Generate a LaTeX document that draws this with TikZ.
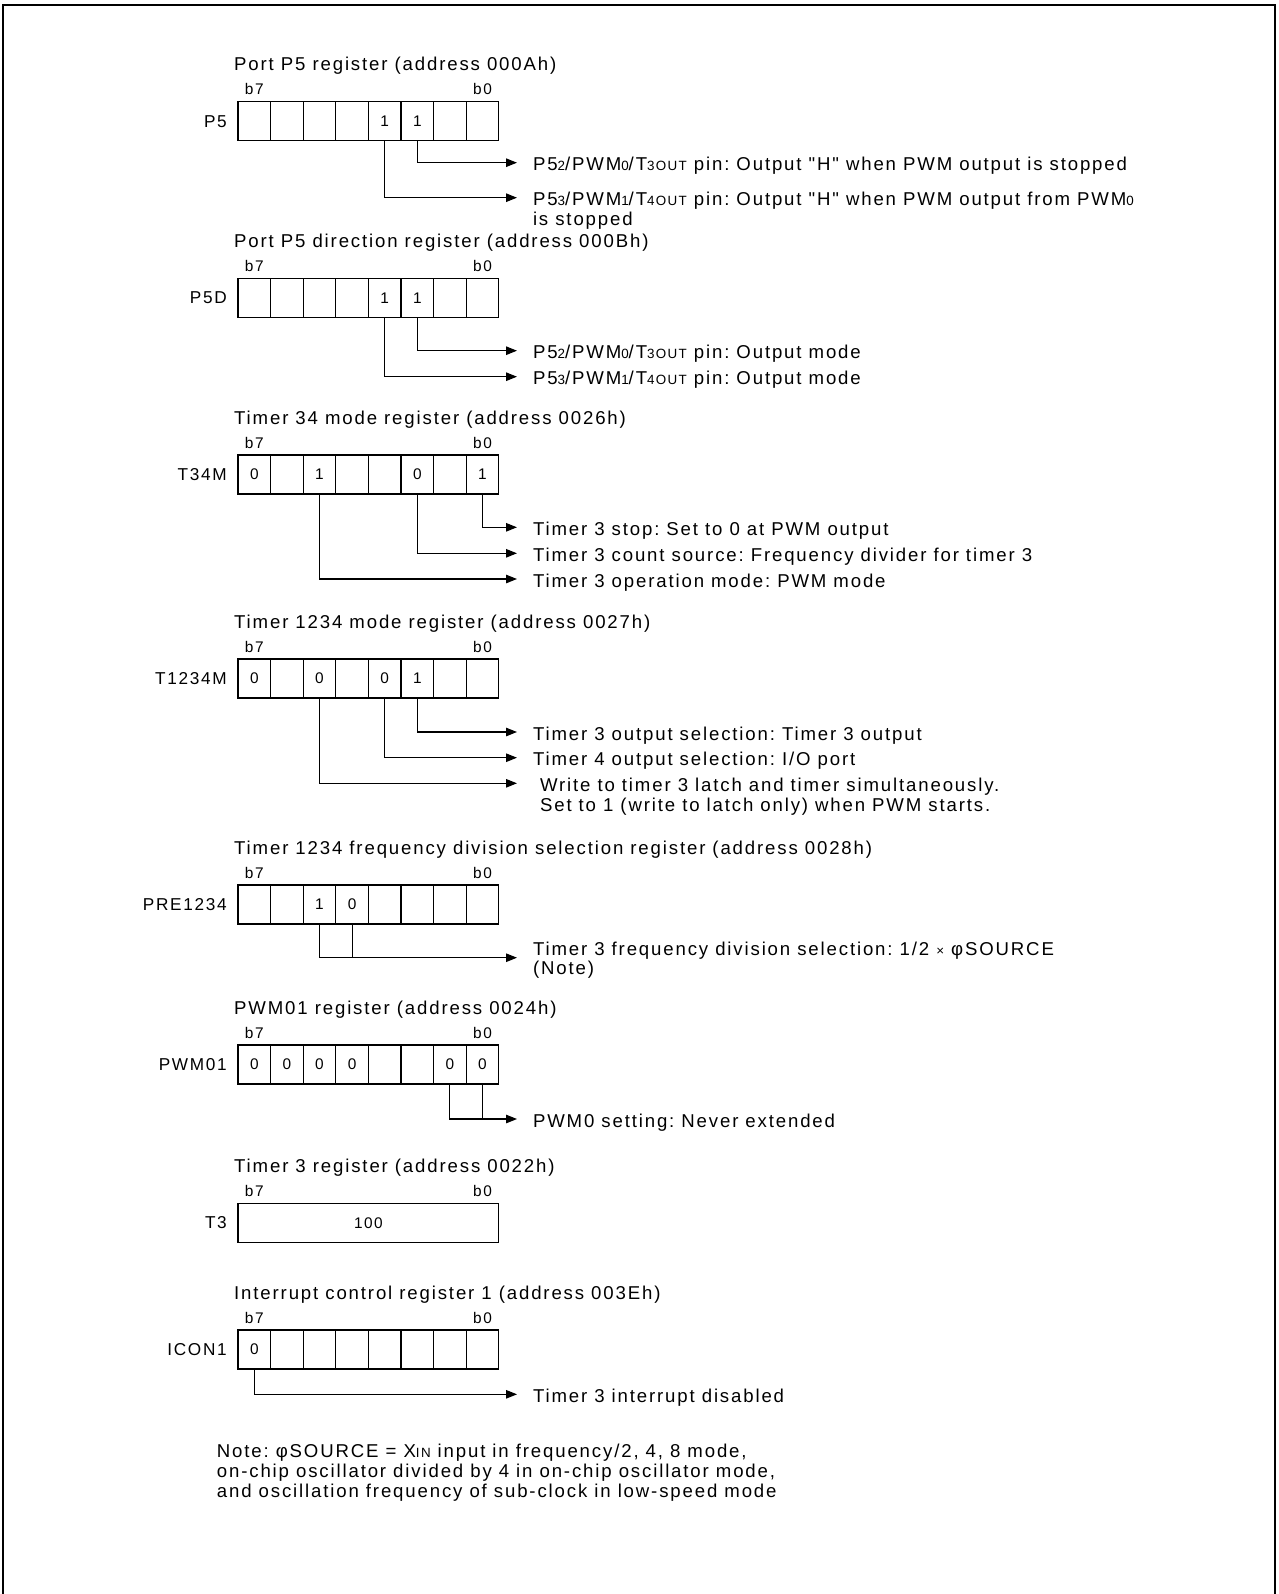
\documentclass[tikz,border=0pt]{standalone}
\usepackage{fontspec}
\setmainfont{Liberation Sans}[LetterSpace=10,Ligatures=TeXOff]
\usepackage{tikz}
\usetikzlibrary{arrows.meta,positioning}
\newcommand{\lowfig}[1]{{\fontsize{13.4}{14}\selectfont #1}}
\frenchspacing

\begin{document}
\begin{tikzpicture}[x=1pt,y=-1pt,
  regcell/.style={draw,line width=1.1pt,minimum width=32.6pt,minimum height=39pt,inner sep=0pt,outer sep=0pt,font=\fontsize{15.4}{16}\selectfont},
  bitlabel/.style={inner sep=0pt,text depth=0pt,font=\fontsize{15.4}{16}\selectfont},
  regname/.style={inner sep=0pt,text height=12.3pt,text depth=0pt,font=\fontsize{17.2}{18}\selectfont},
  regtitle/.style={anchor=west,inner sep=0pt,text height=13pt,text depth=0pt,font=\fontsize{18.6}{20}\selectfont},
  descr/.style={anchor=west,inner sep=0pt,outer xsep=16pt,text height=16pt,text depth=0pt,font=\fontsize{18.6}{20}\selectfont},
  notetext/.style={anchor=base west,inner sep=0pt,font=\fontsize{18.6}{20}\selectfont},
  conn/.style={line width=1.1pt,-{Triangle[length=11pt,width=8.5pt]}},
  link/.style={line width=1.1pt}]
\useasboundingbox (0,0) rectangle (1278,1594);
\draw[line width=2pt] (3,1594) -- (3,5) -- (1275,5) -- (1275,1594);

% port P5
\node[regtitle] (p5-title) at (234,64.2) {Port P5 register (address 000Ah)};
\foreach \v [count=\c from 0] in {{},{},{},{},1,1,{},{}} {
  \pgfmathtruncatemacro\bitno{7-\c}
  \node[regcell] (p5-\bitno) at (254.3+32.6*\c,121.2) {\v};
}
\node[bitlabel,above=6.5pt of p5-7] {b7};
\node[bitlabel,above=6.5pt of p5-0] {b0};
\node[regname,left=11pt of p5-7] {P5};
\node[descr] (p5-d2) at (517,162.7) {P5\lowfig{2}/PWM\lowfig{0}/T\lowfig{3OUT} pin: Output "H" when PWM output is stopped};
\node[descr] (p5-d3) at (517,197.7) {P5\lowfig{3}/PWM\lowfig{1}/T\lowfig{4OUT} pin: Output "H" when PWM output from PWM\lowfig{0}};
\node[descr] (p5-d3b) at ([yshift=-19.5pt]p5-d3.west) {is stopped};
\draw[conn] (p5-2.south) |- (p5-d2.west);
\draw[conn] (p5-3.south) |- (p5-d3.west);

% port P5 direction
\node[regtitle] (p5d-title) at (234,240.8) {Port P5 direction register (address 000Bh)};
\foreach \v [count=\c from 0] in {{},{},{},{},1,1,{},{}} {
  \pgfmathtruncatemacro\bitno{7-\c}
  \node[regcell] (p5d-\bitno) at (254.3+32.6*\c,297.8) {\v};
}
\node[bitlabel,above=6.5pt of p5d-7] {b7};
\node[bitlabel,above=6.5pt of p5d-0] {b0};
\node[regname,left=11pt of p5d-7] {P5D};
\node[descr] (p5d-d2) at (517,350.7) {P5\lowfig{2}/PWM\lowfig{0}/T\lowfig{3OUT} pin: Output mode};
\node[descr] (p5d-d3) at (517,376.7) {P5\lowfig{3}/PWM\lowfig{1}/T\lowfig{4OUT} pin: Output mode};
\draw[conn] (p5d-2.south) |- (p5d-d2.west);
\draw[conn] (p5d-3.south) |- (p5d-d3.west);

% timer 34 mode
\node[regtitle] (t34m-title) at (234,417.5) {Timer 34 mode register (address 0026h)};
\foreach \v [count=\c from 0] in {0,{},1,{},{},0,{},1} {
  \pgfmathtruncatemacro\bitno{7-\c}
  \node[regcell] (t34m-\bitno) at (254.3+32.6*\c,474.5) {\v};
}
\node[bitlabel,above=6.5pt of t34m-7] {b7};
\node[bitlabel,above=6.5pt of t34m-0] {b0};
\node[regname,left=11pt of t34m-7] {T34M};
\node[descr] (t34m-d0) at (517,527.3) {Timer 3 stop: Set to 0 at PWM output};
\node[descr] (t34m-d2) at (517,553.3) {Timer 3 count source: Frequency divider for timer 3};
\node[descr] (t34m-d5) at (517,579) {Timer 3 operation mode: PWM mode};
\draw[conn] (t34m-0.south) |- (t34m-d0.west);
\draw[conn] (t34m-2.south) |- (t34m-d2.west);
\draw[conn] (t34m-5.south) |- (t34m-d5.west);

% timer 1234 mode
\node[regtitle] (t1234m-title) at (234,621.5) {Timer 1234 mode register (address 0027h)};
\foreach \v [count=\c from 0] in {0,{},0,{},0,1,{},{}} {
  \pgfmathtruncatemacro\bitno{7-\c}
  \node[regcell] (t1234m-\bitno) at (254.3+32.6*\c,678.5) {\v};
}
\node[bitlabel,above=6.5pt of t1234m-7] {b7};
\node[bitlabel,above=6.5pt of t1234m-0] {b0};
\node[regname,left=11pt of t1234m-7] {T1234M};
\node[descr] (t1234m-d2) at (517,732) {Timer 3 output selection: Timer 3 output};
\node[descr] (t1234m-d3) at (517,757.7) {Timer 4 output selection: I/O port};
\node[descr] (t1234m-d5) at (517,783.3) {\ Write to timer 3 latch and timer simultaneously.};
\node[descr] (t1234m-d5b) at ([yshift=-20pt]t1234m-d5.west) {\ Set to 1 (write to latch only) when PWM starts.};
\draw[conn] (t1234m-2.south) |- (t1234m-d2.west);
\draw[conn] (t1234m-3.south) |- (t1234m-d3.west);
\draw[conn] (t1234m-5.south) |- (t1234m-d5.west);

% timer 1234 frequency division selection
\node[regtitle] (pre-title) at (234,847.5) {Timer 1234 frequency division selection register (address 0028h)};
\foreach \v [count=\c from 0] in {{},{},1,0,{},{},{},{}} {
  \pgfmathtruncatemacro\bitno{7-\c}
  \node[regcell] (pre-\bitno) at (254.3+32.6*\c,904.5) {\v};
}
\node[bitlabel,above=6.5pt of pre-7] {b7};
\node[bitlabel,above=6.5pt of pre-0] {b0};
\node[regname,left=11pt of pre-7] {PRE1234};
\node[descr] (pre-d) at (517,947.7) {Timer 3 frequency division selection: 1/2 \lowfig{×} φSOURCE};
\node[descr] (pre-db) at ([yshift=-19pt]pre-d.west) {(Note)};
\coordinate (pre-tip) at ([yshift=-10pt]pre-d.west);
\draw[conn] (pre-5.south) |- (pre-tip);
\draw[link] (pre-4.south) -- (pre-4.south |- pre-tip);

% PWM01
\node[regtitle] (pwm-title) at (234,1007.5) {PWM01 register (address 0024h)};
\foreach \v [count=\c from 0] in {0,0,0,0,{},{},0,0} {
  \pgfmathtruncatemacro\bitno{7-\c}
  \node[regcell] (pwm-\bitno) at (254.3+32.6*\c,1064.5) {\v};
}
\node[bitlabel,above=6.5pt of pwm-7] {b7};
\node[bitlabel,above=6.5pt of pwm-0] {b0};
\node[regname,left=11pt of pwm-7] {PWM01};
\node[descr] (pwm-d) at (517,1119) {PWM0 setting: Never extended};
\draw[conn] (pwm-1.south) |- (pwm-d.west);
\draw[link] (pwm-0.south) -- (pwm-0.south |- pwm-d.west);

% timer 3
\node[regtitle] (t3-title) at (234,1165.8) {Timer 3 register (address 0022h)};
\node[regcell,minimum width=260.8pt] (t3-box) at (368.4,1222.8) {100};
\node[bitlabel,above=6.5pt of t3-box.north west,xshift=16.3pt] {b7};
\node[bitlabel,above=6.5pt of t3-box.north east,xshift=-16.3pt] {b0};
\node[regname,left=11pt of t3-box] {T3};

% interrupt control 1
\node[regtitle] (icon-title) at (234,1292.5) {Interrupt control register 1 (address 003Eh)};
\foreach \v [count=\c from 0] in {0,{},{},{},{},{},{},{}} {
  \pgfmathtruncatemacro\bitno{7-\c}
  \node[regcell] (icon-\bitno) at (254.3+32.6*\c,1349.5) {\v};
}
\node[bitlabel,above=6.5pt of icon-7] {b7};
\node[bitlabel,above=6.5pt of icon-0] {b0};
\node[regname,left=11pt of icon-7] {ICON1};
\node[descr] (icon-d) at (517,1394.3) {Timer 3 interrupt disabled};
\draw[conn] (icon-7.south) |- (icon-d.west);

% note
\node[notetext] (note1) at (216.7,1457.7) {Note: φSOURCE = X\lowfig{IN} input in frequency/2, 4, 8 mode,};
\node[notetext] (note2) at ([yshift=-20pt]note1.base west) {on-chip oscillator divided by 4 in on-chip oscillator mode,};
\node[notetext] (note3) at ([yshift=-20pt]note2.base west) {and oscillation frequency of sub-clock in low-speed mode};
\end{tikzpicture}
\end{document}
